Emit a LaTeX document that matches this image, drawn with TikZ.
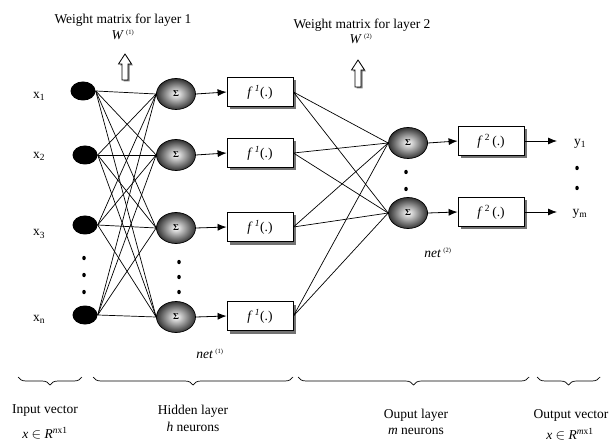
\documentclass[tikz,border=0pt]{standalone}
\usepackage{fontspec}
\setmainfont{Liberation Serif}
\usetikzlibrary{shapes.geometric,shadows,decorations.pathreplacing,arrows.meta}
\begin{document}
\begin{tikzpicture}[x=1pt,y=-1pt,
 inp/.style={ellipse, fill=black, minimum width=25pt, minimum height=19pt, inner sep=0pt},
 sig/.style={ellipse, draw=black, line width=0.7pt, inner color=white, outer color=black!80, minimum width=39pt, minimum height=31pt, inner sep=0pt, font=\fontsize{9}{10}\selectfont\bfseries},
 fbox/.style={draw=black, line width=0.8pt, fill=white, minimum width=66pt, minimum height=29pt, inner sep=0pt, font=\fontsize{13.5}{15}\selectfont, drop shadow={shadow xshift=3pt, shadow yshift=-3pt, fill=black!55, opacity=1}},
 conn/.style={line width=0.7pt},
 arr/.style={-{Latex[length=9pt,width=7pt]}, line width=0.8pt},
 lbl/.style={font=\fontsize{13.5}{15}\selectfont, inner sep=0pt},
 dotn/.style={ellipse, fill=black, inner sep=0pt, minimum width=3.5pt, minimum height=4.5pt},
 brc/.style={decorate, decoration={brace, amplitude=8pt, mirror}, line width=0.7pt},
 hollow/.style={fill=white, draw=black, line width=0.8pt, drop shadow={shadow xshift=1.5pt, shadow yshift=-1.5pt, fill=black!50, opacity=1}}
]
\useasboundingbox (0,0) rectangle (615,446);

% input nodes
\node[inp] (in1) at (83,91) {};
\node[inp] (in2) at (85,155) {};
\node[inp] (in3) at (85,225) {};
\node[inp] (in4) at (85,315) {};
\node[lbl] (lx1) at (39,96) {x\textsubscript{1}};
\node[lbl] (lx2) at (39,156) {x\textsubscript{2}};
\node[lbl] (lx3) at (39,234) {x\textsubscript{3}};
\node[lbl] (lxn) at (39,319) {x\textsubscript{n}};
\node[dotn] (di1) at (84,258) {};
\node[dotn] (di2) at (84,275) {};
\node[dotn] (di3) at (84,292) {};

% hidden sigma nodes
\node[sig] (h1) at (176,94) {Σ};
\node[sig] (h2) at (176,155) {Σ};
\node[sig] (h3) at (176,228) {Σ};
\node[sig] (h4) at (176,317) {Σ};
\node[dotn] (dh1) at (179,262) {};
\node[dotn] (dh2) at (179,277) {};
\node[dotn] (dh3) at (179,292) {};

% hidden activation boxes
\node[fbox] (f1) at (260,92) {\textit{f}\,\textsuperscript{\textit{1}}(.)};
\node[fbox] (f2) at (260,153) {\textit{f}\,\textsuperscript{\textit{1}}(.)};
\node[fbox] (f3) at (260,227) {\textit{f}\,\textsuperscript{\textit{1}}(.)};
\node[fbox] (f4) at (260,316) {\textit{f}\,\textsuperscript{\textit{1}}(.)};

% output sigma nodes
\node[sig] (o1) at (408,143) {Σ};
\node[sig] (o2) at (408,213) {Σ};
\node[dotn] (do1) at (406,172) {};
\node[dotn] (do2) at (406,189) {};

% output activation boxes
\node[fbox] (g1) at (491,141) {\textit{f}\,\textsuperscript{2}\,(.)};
\node[fbox] (g2) at (491,212) {\textit{f}\,\textsuperscript{2}\,(.)};

\coordinate (ya) at (557,141);
\coordinate (yb) at (557,212);
\node[lbl] (ly1) at (580,144) {y\textsubscript{1}};
\node[lbl] (lym) at (580,214) {y\textsubscript{m}};
\node[dotn] (dy1) at (577,168) {};
\node[dotn] (dy2) at (577,188) {};

% layer 1 connections
\foreach \i in {in1,in2,in3,in4}
  \foreach \j in {h1,h2,h3,h4}
    \draw[conn] (\i.east) -- (\j.west);

% layer 2 connections
\foreach \i in {f1,f2,f3,f4}
  \foreach \j in {o1,o2}
    \draw[conn] (\i.east) -- (\j.west);

% arrows
\foreach \a/\b in {h1/f1,h2/f2,h3/f3,h4/f4,o1/g1,o2/g2}
  \draw[arr] (\a.east) -- (\b.west);
\draw[arr] (g1.east) -- (ya);
\draw[arr] (g2.east) -- (yb);

% weight labels
\node[lbl] (wl1) at (123,20) {Weight matrix for layer 1};
\node[lbl] (w1) at (123,35) {\textit{W}\,\textsuperscript{\fontsize{6.5}{7}\selectfont(1)}};
\node[lbl] (wl2) at (362,25) {Weight matrix for layer 2};
\node[lbl] (w2) at (361,39) {\textit{W}\,\textsuperscript{\fontsize{6.5}{7}\selectfont(2)}};
\draw[hollow] (122,80) -- (122,64) -- (118.5,64) -- (125,54) -- (131.5,64) -- (128,64) -- (128,80) -- cycle;
\draw[hollow] (355,87) -- (355,70) -- (351.5,70) -- (358,60) -- (364.5,70) -- (361,70) -- (361,87) -- cycle;

% net labels
\node[lbl] (n1) at (210,354) {\textit{net}\,\textsuperscript{\fontsize{6.5}{7}\selectfont(1)}};
\node[lbl] (n2) at (438,253) {\textit{net}\,\textsuperscript{\fontsize{6.5}{7}\selectfont(2)}};

% braces
\draw[brc] (18,377) -- (82,377);
\draw[brc] (93,377) -- (293,377);
\draw[brc] (298,377) -- (529,377);
\draw[brc] (537,377) -- (600,377);

% bottom labels
\node[lbl] (b1) at (45,411) {Input vector};
\node[lbl] (b1m) at (45,433) {\textit{x} $\in$ \textit{R}\textsuperscript{\textit{n}x1}};
\node[lbl] (b2) at (193,411) {Hidden layer};
\node[lbl] (b2m) at (193,427) {\textit{h} neurons};
\node[lbl] (b3) at (416,415) {Ouput layer};
\node[lbl] (b3m) at (416,431) {\textit{m} neurons};
\node[lbl] (b4) at (571,415) {Output vector};
\node[lbl] (b4m) at (570,434) {\textit{x} $\in$ \textit{R}\textsuperscript{\textit{m}x1}};
\end{tikzpicture}
\end{document}
